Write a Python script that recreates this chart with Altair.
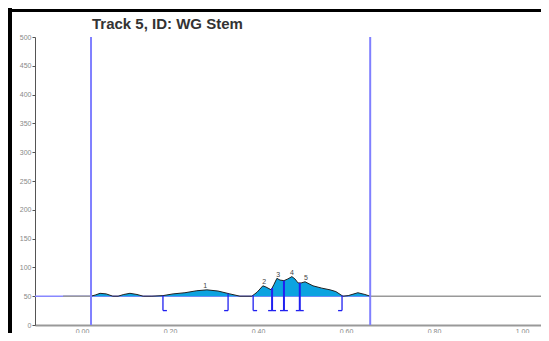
import altair as alt
import numpy as np
import pandas as pd

# ---- data ----
signal_x = [-0.043, 0.020, 0.030, 0.041, 0.055, 0.070, 0.082, 0.095, 0.109, 0.125,
            0.139, 0.159, 0.184, 0.207, 0.234, 0.261, 0.284, 0.309, 0.336, 0.359,
            0.386, 0.398, 0.411, 0.418, 0.430, 0.436, 0.443, 0.450, 0.459, 0.468,
            0.477, 0.484, 0.491, 0.498, 0.507, 0.525, 0.545, 0.564, 0.577, 0.593,
            0.605, 0.627, 0.643, 0.655, 1.060]
signal_y = [50, 50, 52, 55, 54, 50, 50, 53, 55, 53,
            50, 50, 51, 54, 56, 59.5, 61, 59, 54, 50,
            50, 57, 68, 66, 61, 70, 81, 78, 77, 80,
            84, 80, 73, 73, 75, 68, 64, 61, 58, 50,
            51, 56, 53, 50, 50]

title_text = "Track 5, ID: WG Stem"
lane_start = 0.0205
lane_end = 0.655
baseline = 50

peak_labels = ["1", "2", "3", "4", "5"]
peak_start = [0.184, 0.389, 0.432, 0.459, 0.495]
peak_end = [0.332, 0.432, 0.459, 0.495, 0.591]
peak_x = [0.280, 0.414, 0.446, 0.477, 0.509]

bracket_bottom = 25
x_ticks = [0.0, 0.2, 0.4, 0.6, 0.8, 1.0]
y_ticks = list(range(0, 501, 50))

x_min, x_max = -0.1068, 1.0432

# ---- tables ----
sig = pd.DataFrame({"x": signal_x, "y": signal_y})
sig["base"] = baseline
mid = sig[(sig.x >= lane_start - 0.001) & (sig.x <= lane_end + 0.001)]
left = sig[sig.x <= lane_start + 0.001]
right = sig[sig.x >= lane_end - 0.001]

serif = 0.009
starts_set = set(peak_start)
ends_set = set(peak_end)
bounds = sorted(starts_set | ends_set)
vert_rows, serif_rows = [], []
for b in bounds:
    is_div = b in starts_set and b in ends_set
    top = float(np.interp(b, signal_x, signal_y))
    vert_rows.append({"x": b, "y": max(top, baseline), "y2": bracket_bottom,
                      "w": 2.0 if is_div else 1.3})
    if b in starts_set:
        serif_rows.append({"x": b, "x2": b + serif, "y": bracket_bottom})
    if b in ends_set:
        serif_rows.append({"x": b - serif, "x2": b, "y": bracket_bottom})
verts = pd.DataFrame(vert_rows)
serifs = pd.DataFrame(serif_rows)

labels = pd.DataFrame({"x": peak_x, "t": peak_labels,
                       "y": [float(np.interp(p, signal_x, signal_y)) for p in peak_x]})
lanes = pd.DataFrame({"x": [lane_start, lane_end]})
base_df = pd.DataFrame({"x": [x_min], "x2": [lane_end], "y": [baseline]})
title_df = pd.DataFrame({"t": [title_text]})

xs = alt.Scale(domain=[x_min, x_max], nice=False, zero=False)
ys = alt.Scale(domain=[0, 500], nice=False)

xaxis = alt.Axis(values=x_ticks, format=".2f", grid=False, title=None,
                 labelFontSize=7, labelColor="#888", labelPadding=2,
                 domainColor="#999", domainWidth=2, tickSize=0,
                 labelFont="Liberation Sans")
yaxis = alt.Axis(values=y_ticks, grid=False, title=None,
                 labelFontSize=7, labelColor="#888", labelPadding=1,
                 domainColor="#555", domainWidth=1, tickSize=3, tickColor="#555",
                 labelFont="Liberation Sans")

X = lambda f="x": alt.X(f"{f}:Q", scale=xs, axis=xaxis)
Y = lambda f="y": alt.Y(f"{f}:Q", scale=ys, axis=yaxis)

axes_layer = alt.Chart(base_df).mark_rule(color="#8888ff", strokeWidth=1.5).encode(
    x=X(), x2="x2:Q", y=Y())

area = alt.Chart(mid).mark_area(color="#0ca3e0", opacity=1).encode(
    x=X(), y=Y(), y2="base:Q")
line_mid = alt.Chart(mid).mark_line(color="#222", strokeWidth=1).encode(x=X(), y=Y())
line_left = alt.Chart(left).mark_line(color="#999", strokeWidth=1.5).encode(x=X(), y=Y())
line_right = alt.Chart(right).mark_line(color="#999", strokeWidth=1.5, clip=True).encode(x=X(), y=Y())

lane_rules = alt.Chart(lanes).mark_rule(color="#8080ff", strokeWidth=2).encode(
    x=X(), y=alt.value(0), y2=alt.value(288))

vert_layer = alt.Chart(verts).mark_rule(color="#2020f0").encode(
    x=X(), y=Y(), y2="y2:Q",
    strokeWidth=alt.StrokeWidth("w:Q", scale=None, legend=None))
serif_layer = alt.Chart(serifs).mark_rule(color="#2020f0", strokeWidth=1.3).encode(
    x=X(), x2="x2:Q", y=Y())

label_layer = alt.Chart(labels).mark_text(
    fontSize=7, color="#444", baseline="bottom", dy=-1, font="Liberation Sans").encode(
    x=X(), y=Y(), text="t:N")

title_layer = alt.Chart(title_df).mark_text(
    fontSize=15, fontWeight="bold", color="#333", font="Liberation Sans",
    align="left", baseline="alphabetic").encode(
    x=alt.value(57), y=alt.value(-8), text="t:N")

frame_left = alt.Chart(base_df).mark_rule(color="#000", strokeWidth=4).encode(
    x=alt.value(-25), y=alt.value(-29), y2=alt.value(300))
frame_top = alt.Chart(base_df).mark_rule(color="#000", strokeWidth=3).encode(
    x=alt.value(-27), x2=alt.value(506), y=alt.value(-26.5))

chart = alt.layer(
    axes_layer, area, line_left, line_right, line_mid, lane_rules,
    vert_layer, serif_layer, label_layer, title_layer, frame_left, frame_top
).properties(
    width=506, height=288,
    background="white",
    autosize=alt.AutoSizeParams(type="none"),
    padding={"left": 27, "top": 29, "right": 0, "bottom": 8},
).configure_view(stroke="transparent", strokeWidth=0)

chart.save("out.html", embed_options={"renderer": "svg", "actions": False})
